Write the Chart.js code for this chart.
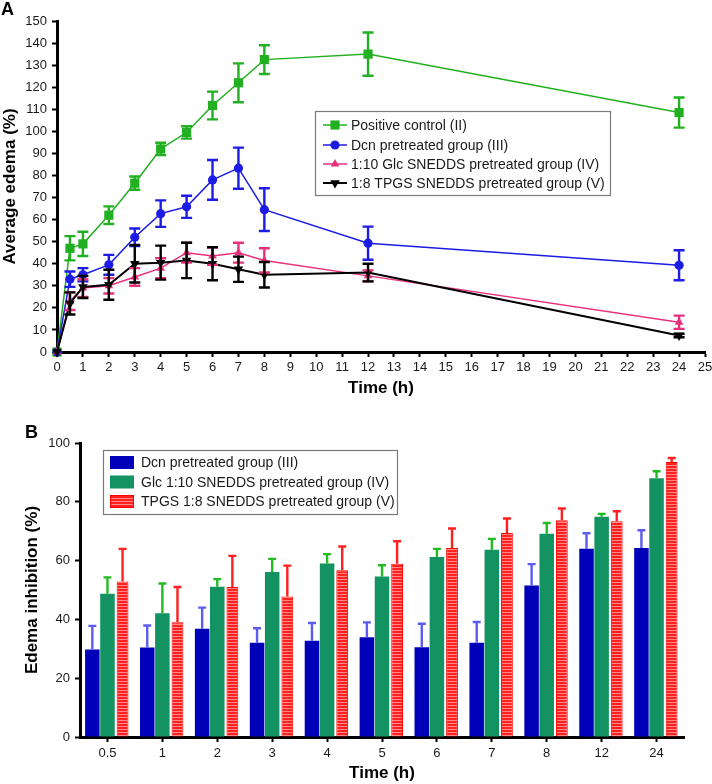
<!DOCTYPE html>
<html><head><meta charset="utf-8">
<script src="https://cdn.jsdelivr.net/npm/chart.js@4.4.1/dist/chart.umd.min.js"></script>
<style>
html,body{margin:0;padding:0;background:#fff;}
#wrap{position:relative;width:712px;height:784px;overflow:hidden;}
canvas{position:absolute;left:0;}
#cA{top:0}
#cB{top:400px}
</style></head><body>
<div id="wrap"><canvas id="cA" width="712" height="400"></canvas><canvas id="cB" width="712" height="384"></canvas></div>
<script>
// ---------- Data: chart A ----------
const timesA = [0, 0.5, 1, 2, 3, 4, 5, 6, 7, 8, 12, 24];
const seriesALabels = ['Positive control (II)', 'Dcn pretreated group (III)', '1:10 Glc SNEDDS pretreated group (IV)', '1:8 TPGS SNEDDS pretreated group (V)'];
const positiveControl = [0, 47, 49, 62, 76.5, 92, 99.5, 111.7, 122, 132.5, 135, 108.5];
const positiveControlErr = [0, 5.5, 5.5, 4, 3, 2.8, 2.8, 6.3, 8.8, 6.5, 9.8, 6.8];
const dcnGroup = [0, 33, 35, 39.5, 52, 62.7, 65.8, 78, 83.3, 64.5, 49.3, 39.3];
const dcnGroupErr = [0, 3.5, 3, 4.5, 4, 6, 5, 9, 9.3, 9.7, 7.5, 6.8];
const glcGroup = [0, 23, 29, 30, 34, 38, 45, 43.5, 45, 41.5, 34.5, 13.5];
const glcGroupErr = [0, 4, 4, 3.5, 4, 4.5, 4.5, 4, 4.5, 5.5, 2.5, 3];
const tpgsGroup = [0, 22, 29.5, 30.5, 40, 40.5, 41.5, 40, 37.5, 35, 36, 7.5];
const tpgsGroupErr = [0, 5, 5, 6.8, 8.5, 7.7, 8, 7.5, 5.7, 5.8, 4, 0.8];

// ---------- Data: chart B ----------
const timesB = ['0.5', '1', '2', '3', '4', '5', '6', '7', '8', '12', '24'];
const seriesBLabels = ['Dcn pretreated group (III)', 'Glc 1:10 SNEDDS pretreated group (IV)', 'TPGS 1:8 SNEDDS pretreated group (V)'];
const dcnInhibition = [29.8, 30.4, 36.8, 32.1, 32.7, 33.9, 30.5, 32.1, 51.5, 64, 64.3];
const dcnInhibitionErr = [8, 7.5, 7.2, 4.9, 6.1, 5.1, 8, 7, 7.3, 5.3, 6];
const glcInhibition = [48.7, 42.1, 51.1, 56.1, 59, 54.6, 61.2, 63.7, 69.1, 74.9, 88];
const glcInhibitionErr = [5.6, 10.1, 2.6, 4.5, 3.2, 3.8, 2.8, 3.7, 3.7, 1, 2.4];
const tpgsInhibition = [52.9, 39, 51, 47.8, 56.7, 58.9, 64.3, 69.4, 73.7, 73.4, 93.5];
const tpgsInhibitionErr = [11.1, 12, 10.6, 10.5, 8.1, 7.7, 6.6, 4.9, 4, 3.4, 1.4];

const FONT = '"Liberation Sans", Arial, Helvetica, sans-serif';
Chart.defaults.font.family = FONT;
Chart.defaults.color = '#1a1a1a';

// ---------- Chart A ----------
const colA = ['#22b022', '#1c1ce6', '#e8307c', '#000000'];
const styleA = [
  {pointStyle: 'rect', radius: 6.5, rotation: 0},
  {pointStyle: 'circle', radius: 4.6, rotation: 0},
  {pointStyle: 'triangle', radius: 5, rotation: 0},
  {pointStyle: 'triangle', radius: 5.5, rotation: 180}
];
const valsA = [positiveControl, dcnGroup, glcGroup, tpgsGroup];
const errsA = [positiveControlErr, dcnGroupErr, glcGroupErr, tpgsGroupErr];

const errPluginA = {
  id: 'errA',
  afterDatasetsDraw(chart) {
    const ctx = chart.ctx, x = chart.scales.x, y = chart.scales.y;
    for (let i = 0; i < valsA.length; i++) {
      ctx.save();
      ctx.strokeStyle = colA[i];
      ctx.lineWidth = 2.4;
      valsA[i].forEach((v, j) => {
        const e = errsA[i][j];
        if (!e) return;
        const px = x.getPixelForValue(timesA[j]);
        const yt = y.getPixelForValue(v + e), yb = y.getPixelForValue(v - e);
        ctx.beginPath();
        ctx.moveTo(px, yt); ctx.lineTo(px, yb);
        ctx.moveTo(px - 5.5, yt); ctx.lineTo(px + 5.5, yt);
        ctx.moveTo(px - 5.5, yb); ctx.lineTo(px + 5.5, yb);
        ctx.stroke();
      });
      ctx.restore();
    }
  },
  afterDraw(chart) {
    const ctx = chart.ctx;
    ctx.save();
    // panel letter
    ctx.fillStyle = '#000';
    ctx.font = 'bold 18px ' + FONT;
    ctx.textBaseline = 'alphabetic';
    ctx.fillText('A', 1, 15);
    // legend
    ctx.fillStyle = '#fff';
    ctx.fillRect(315, 111, 295, 84);
    ctx.strokeStyle = '#7a7a7a';
    ctx.lineWidth = 1.2;
    ctx.strokeRect(315.5, 111.5, 295, 84);
    const rows = [125, 145, 164, 183];
    ctx.font = '14px ' + FONT;
    ctx.textBaseline = 'middle';
    for (let i = 0; i < 4; i++) {
      const yy = rows[i];
      ctx.strokeStyle = colA[i];
      ctx.fillStyle = colA[i];
      ctx.lineWidth = i === 3 ? 2 : 1.5;
      ctx.beginPath(); ctx.moveTo(323, yy); ctx.lineTo(347, yy); ctx.stroke();
      Chart.helpers.drawPoint(ctx, {pointStyle: styleA[i].pointStyle, radius: styleA[i].radius, rotation: styleA[i].rotation, borderWidth: 0}, 335, yy);
      ctx.fillStyle = '#1a1a1a';
      ctx.fillText(seriesALabels[i], 351, yy + 1);
    }
    ctx.restore();
  }
};

new Chart(document.getElementById('cA'), {
  type: 'line',
  data: {
    datasets: valsA.map((vals, i) => ({
      label: seriesALabels[i],
      data: vals.map((v, j) => ({x: timesA[j], y: v})),
      borderColor: colA[i],
      backgroundColor: colA[i],
      borderWidth: i === 3 ? 2 : 1.5,
      pointStyle: styleA[i].pointStyle,
      pointRadius: styleA[i].radius,
      pointRotation: styleA[i].rotation,
      pointBorderWidth: 0,
      pointBackgroundColor: colA[i],
      tension: 0,
      clip: false,
      order: 4 - i
    }))
  },
  options: {
    responsive: false,
    animation: false,
    devicePixelRatio: 1,
    layout: {padding: {left: 0, top: 21, right: 7, bottom: 0}},
    plugins: {legend: {display: false}, tooltip: {enabled: false}},
    scales: {
      x: {
        type: 'linear', min: 0, max: 25,
        ticks: {stepSize: 1, autoSkip: false, maxRotation: 0, padding: 3, font: {size: 13}},
        grid: {display: true, drawOnChartArea: false, drawTicks: true, tickLength: 5, tickColor: '#000', tickWidth: 2},
        border: {display: true, color: '#000', width: 3},
        title: {display: true, text: 'Time (h)', color: '#000', font: {size: 17, weight: 'bold'}, padding: {top: 0, bottom: 1}},
        afterFit(s) { s.height = 48; s.paddingLeft = 0; s.paddingRight = 0; }
      },
      y: {
        min: 0, max: 150,
        ticks: {stepSize: 10, autoSkip: false, padding: 5, font: {size: 13}},
        grid: {display: true, drawOnChartArea: false, drawTicks: true, tickLength: 5, tickColor: '#000', tickWidth: 2},
        border: {display: true, color: '#000', width: 3},
        title: {display: true, text: 'Average edema (%)', color: '#000', font: {size: 17, weight: 'bold'}, padding: 0},
        afterFit(s) { s.width = 57; s.paddingTop = 0; s.paddingBottom = 0; }
      }
    }
  },
  plugins: [errPluginA]
});

// ---------- Chart B ----------
function stripePattern() {
  const c = document.createElement('canvas');
  c.width = 4; c.height = 3;
  const g = c.getContext('2d');
  g.fillStyle = '#ff2020'; g.fillRect(0, 0, 4, 3);
  g.fillStyle = '#ff8a8a'; g.fillRect(0, 2, 4, 1);
  return g.createPattern(c, 'repeat');
}
const redPat = stripePattern();
const colB = ['#0000b8', '#139262', redPat];
const errColB = ['#5c5cf0', '#22bb22', '#ff2020'];
const valsB = [dcnInhibition, glcInhibition, tpgsInhibition];
const errsB = [dcnInhibitionErr, glcInhibitionErr, tpgsInhibitionErr];

const errPluginB = {
  id: 'errB',
  afterDatasetsDraw(chart) {
    const ctx = chart.ctx, y = chart.scales.y;
    for (let i = 0; i < valsB.length; i++) {
      const meta = chart.getDatasetMeta(i);
      ctx.save();
      ctx.strokeStyle = errColB[i];
      ctx.lineWidth = 2.4;
      valsB[i].forEach((v, j) => {
        const px = meta.data[j].x;
        const yt = y.getPixelForValue(v + errsB[i][j]), yb = y.getPixelForValue(v);
        ctx.beginPath();
        ctx.moveTo(px, yb); ctx.lineTo(px, yt);
        ctx.moveTo(px - 4, yt); ctx.lineTo(px + 4, yt);
        ctx.stroke();
      });
      ctx.restore();
    }
  },
  afterDraw(chart) {
    const ctx = chart.ctx;
    ctx.save();
    ctx.fillStyle = '#000';
    ctx.font = 'bold 18px ' + FONT;
    ctx.textBaseline = 'alphabetic';
    ctx.fillText('B', 25, 38);
    ctx.fillStyle = '#fff';
    ctx.fillRect(103, 50, 294, 64);
    ctx.strokeStyle = '#7a7a7a';
    ctx.lineWidth = 1.2;
    ctx.strokeRect(103.5, 50.5, 294, 64);
    const rows = [62.5, 82, 101.5];
    ctx.font = '14px ' + FONT;
    ctx.textBaseline = 'middle';
    for (let i = 0; i < 3; i++) {
      const yy = rows[i];
      ctx.fillStyle = colB[i];
      ctx.fillRect(110, yy - 6.5, 24, 13);
      if (i === 2) { ctx.strokeStyle = '#ff0000'; ctx.lineWidth = 1; ctx.strokeRect(110.5, yy - 6, 23, 12); }
      ctx.fillStyle = '#1a1a1a';
      ctx.fillText(seriesBLabels[i], 141, yy + 1);
    }
    ctx.restore();
  }
};

new Chart(document.getElementById('cB'), {
  type: 'bar',
  data: {
    labels: timesB,
    datasets: valsB.map((vals, i) => ({
      label: seriesBLabels[i],
      data: vals,
      backgroundColor: colB[i],
      borderColor: i === 2 ? '#ff0000' : colB[i],
      borderWidth: i === 2 ? 1 : 0,
      borderSkipped: 'bottom',
      categoryPercentage: 0.826,
      barPercentage: i === 2 ? 0.78 : 0.96
    }))
  },
  options: {
    responsive: false,
    animation: false,
    devicePixelRatio: 1,
    layout: {padding: {left: 0, top: 43, right: 28, bottom: 0}},
    plugins: {legend: {display: false}, tooltip: {enabled: false}},
    scales: {
      x: {
        ticks: {padding: 4, maxRotation: 0, font: {size: 13}},
        grid: {display: true, offset: false, drawOnChartArea: false, drawTicks: true, tickLength: 5, tickColor: '#000', tickWidth: 2},
        border: {display: true, color: '#000', width: 3},
        title: {display: true, text: 'Time (h)', color: '#000', font: {size: 17, weight: 'bold'}, padding: {top: 0, bottom: 0}},
        afterFit(s) { s.height = 47; s.paddingLeft = 0; s.paddingRight = 0; }
      },
      y: {
        min: 0, max: 100,
        ticks: {stepSize: 20, padding: 5, font: {size: 13}},
        grid: {display: true, drawOnChartArea: false, drawTicks: true, tickLength: 5, tickColor: '#000', tickWidth: 2},
        border: {display: true, color: '#000', width: 3},
        title: {display: true, text: 'Edema inhibition (%)', color: '#000', font: {size: 17, weight: 'bold'}, padding: {top: 22, bottom: 0}},
        afterFit(s) { s.width = 80; s.paddingTop = 0; s.paddingBottom = 0; }
      }
    }
  },
  plugins: [errPluginB]
});
</script>
</body></html>
